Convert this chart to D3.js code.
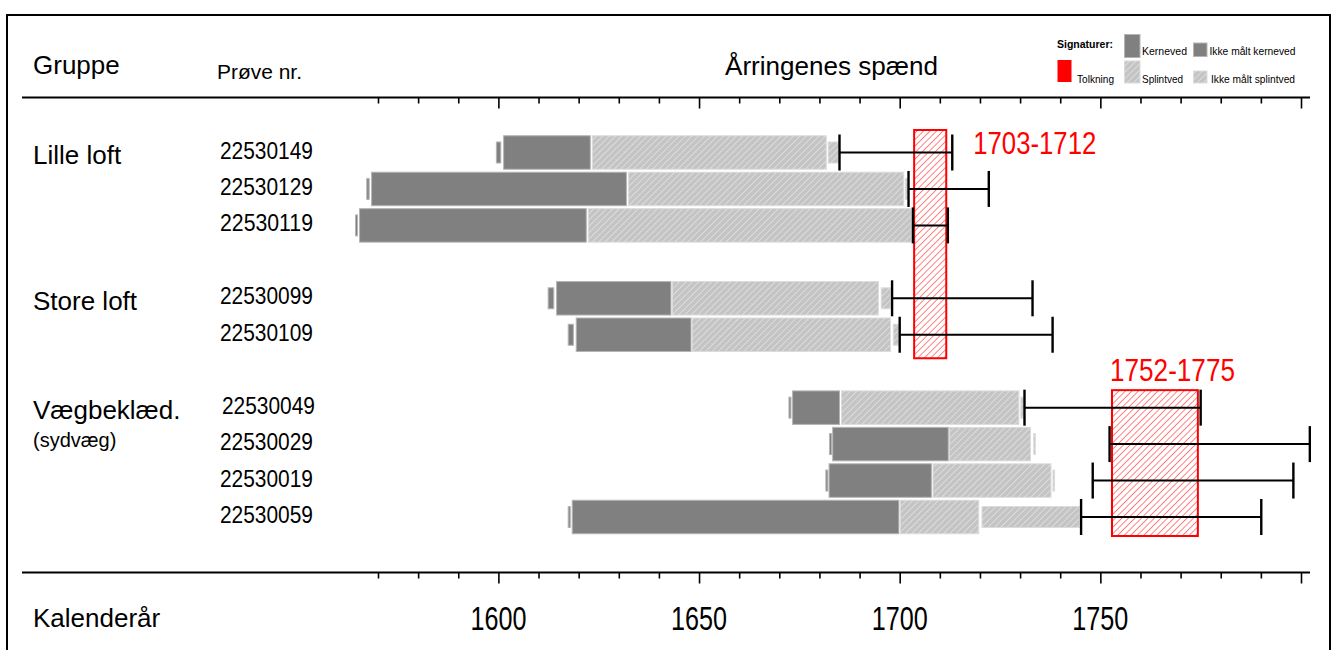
<!DOCTYPE html>
<html>
<head>
<meta charset="utf-8">
<script src="https://cdn.jsdelivr.net/npm/d3@7"></script>
<style>
  body { margin: 0; background: #fff; }
  text { font-family: "Liberation Sans", Arial, sans-serif; }
</style>
</head>
<body>
<script>
// data (years)
const samples = ["22530149","22530129","22530119","22530099","22530109","22530049","22530029","22530019","22530059"];
const slots   = [0, 1, 2, 4, 5, 7, 8, 9, 10];
const groups  = ["Lille loft", "Store loft", "Vægbeklæd."];
const groupSlots = [0, 4, 7];

const ikmKern = [[1599.5,1600.6],[1567.2,1567.8],[1564.4,1564.9],[1612.4,1613.8],[1617.4,1618.7],[1672.4,1672.9],[1682.5,1683.0],[1681.6,1682.1],[1617.4,1617.9]];
const kern    = [[1601.3,1622.9],[1568.4,1631.9],[1565.4,1621.9],[1614.5,1643.0],[1619.4,1648.0],[1673.3,1685.0],[1683.3,1712.1],[1682.4,1707.9],[1618.4,1699.8]];
const splint  = [[1623.4,1681.7],[1632.4,1701.0],[1622.4,1702.9],[1643.4,1694.7],[1648.3,1697.7],[1685.5,1729.7],[1712.4,1732.6],[1708.3,1737.7],[1700.2,1719.7]];
const ikmSplint = [[1682.2,1684.8],[1701.4,1702.0],null,[1695.4,1697.7],[1698.4,1699.7],[1730.2,1730.8],[1733.4,1733.8],[1738.2,1738.6],[1720.5,1744.8]];
const felling = [[1685.0,1713.1],[1702.2,1722.2],[1703.3,1712.0],[1698.1,1733.1],[1700.0,1738.1],[1731.1,1775.0],[1752.3,1802.2],[1748.1,1798.1],[1745.2,1790.1]];

const tolkning = [[1703.6,1711.6],[1752.9,1774.3]];
const tolkRows = [[0,5],[7,10]];
const tolkLabels = ["1703-1712","1752-1775"];

const tickYears  = d3.range(1570, 1801, 10);
const majorYears = [1600, 1650, 1700, 1750, 1800];
const yearLabels = [1600, 1650, 1700, 1750];

const w = 1332, h = 650;

const svg = d3.select("body").append("svg")
  .attr("width", w)
  .attr("height", h);

const x = d3.scaleLinear().domain([1570, 1800]).range([378, 1301]);
const y = d3.scaleLinear().domain([0, 10]).range([152.5, 517]);

const defs = svg.append("defs");
const hatch = defs.append("pattern")
  .attr("id", "hatch")
  .attr("patternUnits", "userSpaceOnUse")
  .attr("width", 4.5).attr("height", 4.5)
  .attr("patternTransform", "rotate(45)");
hatch.append("rect").attr("width", 4.5).attr("height", 4.5).attr("fill", "#c4c4c4");
hatch.append("line").attr("x1", 0).attr("y1", 0).attr("x2", 0).attr("y2", 4.5)
  .attr("stroke", "#f4f4f4").attr("stroke-width", 1);

const redHatch = defs.append("pattern")
  .attr("id", "redhatch")
  .attr("patternUnits", "userSpaceOnUse")
  .attr("width", 4.6).attr("height", 4.6)
  .attr("patternTransform", "rotate(45)");
redHatch.append("line").attr("x1", 0).attr("y1", 0).attr("x2", 0).attr("y2", 4.6)
  .attr("stroke", "#ff3030").attr("stroke-width", 1.2);

// frame
svg.append("rect")
  .attr("x", 7).attr("y", 15)
  .attr("width", 1323).attr("height", 700)
  .attr("fill", "none").attr("stroke", "#000").attr("stroke-width", 2);

// axes (top and bottom)
function drawAxis(yPos) {
  const g = svg.append("g").attr("transform", "translate(0," + yPos + ")")
    .call(d3.axisBottom(x).tickValues(tickYears).tickFormat("").tickSizeOuter(0).tickSize(6));
  g.select(".domain").remove();
  g.selectAll(".tick line")
    .attr("stroke-width", 1.6)
    .attr("y2", d => majorYears.includes(d) ? 11 : 6);
  svg.append("line")
    .attr("x1", 22).attr("x2", 1310)
    .attr("y1", yPos).attr("y2", yPos)
    .attr("stroke", "#000").attr("stroke-width", 2);
}
drawAxis(97.5);
drawAxis(572.5);

// headers
svg.append("text").attr("x", 33).attr("y", 74).attr("font-size", 26).text("Gruppe");
svg.append("text").attr("x", 217).attr("y", 79).attr("font-size", 21)
  .attr("textLength", 85).attr("lengthAdjust", "spacingAndGlyphs").text("Prøve nr.");
svg.append("text").attr("x", 725).attr("y", 75).attr("font-size", 26)
  .attr("textLength", 213).attr("lengthAdjust", "spacingAndGlyphs").text("Årringenes spænd");
svg.append("text").attr("x", 33).attr("y", 627).attr("font-size", 26).text("Kalenderår");

svg.selectAll(".yearlab")
  .data(yearLabels)
  .enter()
  .append("text")
  .attr("class", "yearlab")
  .attr("x", d => x(d) - 28)
  .attr("y", 630)
  .attr("font-size", 33)
  .attr("textLength", 56).attr("lengthAdjust", "spacingAndGlyphs")
  .text(d => d);

// group labels
svg.selectAll(".grp")
  .data(groups)
  .enter()
  .append("text")
  .attr("class", "grp")
  .attr("x", 33)
  .attr("y", (d, i) => y(groupSlots[i]) + 11.5)
  .attr("font-size", 26)
  .text(d => d);
svg.append("text").attr("x", 33).attr("y", y(8) + 3).attr("font-size", 20).text("(sydvæg)");

// sample numbers
svg.selectAll(".sample")
  .data(samples)
  .enter()
  .append("text")
  .attr("class", "sample")
  .attr("x", (d, i) => i === 5 ? 222 : 220)
  .attr("y", (d, i) => y(slots[i]) + 6)
  .attr("font-size", 23)
  .attr("textLength", 93).attr("lengthAdjust", "spacingAndGlyphs")
  .text(d => d);

// bars
const barH = 33.5, smallH = 21;
function segs(arr, cls, fill, stroke, hh) {
  svg.selectAll("." + cls)
    .data(arr.map((d, i) => ({ d: d, i: i })).filter(o => o.d))
    .enter()
    .append("rect")
    .attr("class", cls)
    .attr("x", o => x(o.d[0]))
    .attr("width", o => Math.max(0.6, x(o.d[1]) - x(o.d[0])))
    .attr("y", o => y(slots[o.i]) - hh / 2)
    .attr("height", hh)
    .attr("fill", fill)
    .attr("stroke", stroke)
    .attr("stroke-width", 1);
}
segs(ikmKern, "ikmk", "#808080", "#b5b5b5", smallH);
segs(kern, "kern", "#808080", "#b5b5b5", barH);
segs(splint, "splint", "url(#hatch)", "#dcdcdc", barH);
segs(ikmSplint, "ikms", "url(#hatch)", "#dcdcdc", smallH);

// tolkning boxes
const padTop = [22.5, 17.5], padBottom = [23.5, 19];
svg.selectAll(".tolk")
  .data(tolkning)
  .enter()
  .append("rect")
  .attr("class", "tolk")
  .attr("x", d => x(d[0]))
  .attr("width", d => x(d[1]) - x(d[0]))
  .attr("y", (d, i) => y(tolkRows[i][0]) - padTop[i])
  .attr("height", (d, i) => y(tolkRows[i][1]) - y(tolkRows[i][0]) + padTop[i] + padBottom[i])
  .attr("fill", "url(#redhatch)")
  .attr("stroke", "#ff0000")
  .attr("stroke-width", 2);

svg.append("text").attr("x", x(tolkning[0][1]) + 27).attr("y", 154)
  .attr("font-size", 31).attr("fill", "#ff0000")
  .attr("textLength", 123).attr("lengthAdjust", "spacingAndGlyphs")
  .text(tolkLabels[0]);
svg.append("text").attr("x", x(tolkning[1][0]) - 2).attr("y", 381)
  .attr("font-size", 31).attr("fill", "#ff0000")
  .attr("textLength", 125).attr("lengthAdjust", "spacingAndGlyphs")
  .text(tolkLabels[1]);

// felling ranges
const fell = svg.selectAll(".fell")
  .data(felling)
  .enter()
  .append("g")
  .attr("class", "fell");
fell.append("line")
  .attr("x1", d => x(d[0])).attr("x2", d => x(d[1]))
  .attr("y1", (d, i) => y(slots[i])).attr("y2", (d, i) => y(slots[i]))
  .attr("stroke", "#000").attr("stroke-width", 2);
fell.append("line")
  .attr("x1", d => x(d[0])).attr("x2", d => x(d[0]))
  .attr("y1", (d, i) => y(slots[i]) - 18).attr("y2", (d, i) => y(slots[i]) + 18)
  .attr("stroke", "#000").attr("stroke-width", 2.4);
fell.append("line")
  .attr("x1", d => x(d[1])).attr("x2", d => x(d[1]))
  .attr("y1", (d, i) => y(slots[i]) - 18).attr("y2", (d, i) => y(slots[i]) + 18)
  .attr("stroke", "#000").attr("stroke-width", 2.4);

// legend
const lg = svg.append("g");
lg.append("text").attr("x", 1057).attr("y", 48).attr("font-size", 10.5).attr("font-weight", "bold")
  .attr("textLength", 56).attr("lengthAdjust", "spacingAndGlyphs").text("Signaturer:");
lg.append("rect").attr("x", 1124.5).attr("y", 34.5).attr("width", 15.5).attr("height", 23)
  .attr("fill", "#808080").attr("stroke", "#b5b5b5");
lg.append("rect").attr("x", 1193.5).attr("y", 43).attr("width", 13.5).attr("height", 13.5)
  .attr("fill", "#808080").attr("stroke", "#b5b5b5");
lg.append("rect").attr("x", 1057.5).attr("y", 60).attr("width", 14).attr("height", 22)
  .attr("fill", "#ff0000");
lg.append("rect").attr("x", 1124.5).attr("y", 61).attr("width", 15.5).attr("height", 22)
  .attr("fill", "url(#hatch)").attr("stroke", "#dcdcdc");
lg.append("rect").attr("x", 1193.5).attr("y", 71).attr("width", 13.5).attr("height", 12)
  .attr("fill", "url(#hatch)").attr("stroke", "#dcdcdc");
const legTexts = [
  ["Kerneved", 1142, 55, 45],
  ["Ikke målt kerneved", 1209.5, 55, 86],
  ["Tolkning", 1077, 83, 37],
  ["Splintved", 1142, 83, 41],
  ["Ikke målt splintved", 1211, 83, 84]
];
lg.selectAll(".lt")
  .data(legTexts)
  .enter()
  .append("text")
  .attr("class", "lt")
  .attr("x", d => d[1]).attr("y", d => d[2])
  .attr("font-size", 11)
  .attr("textLength", d => d[3]).attr("lengthAdjust", "spacingAndGlyphs")
  .text(d => d[0]);
</script>
</body>
</html>
